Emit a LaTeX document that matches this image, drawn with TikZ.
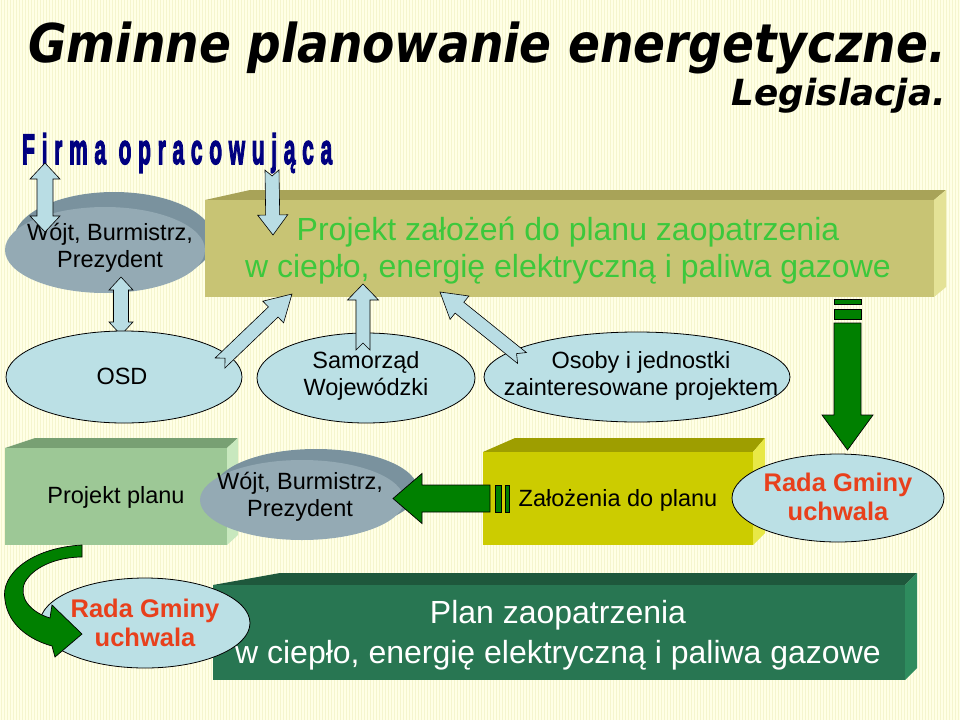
\documentclass[tikz,border=0pt]{standalone}
\usepackage{fontspec}
\setmainfont{Liberation Sans}
\newfontfamily\titlefont{DejaVu Sans}
\newfontfamily\firmafont{Liberation Sans}[LetterSpace=32, BoldFeatures={FakeBold=3.5}]
\usetikzlibrary{shapes.geometric}
\definecolor{bgc}{RGB}{255,255,230}
\definecolor{stripec}{RGB}{245,245,206}
\definecolor{lblue}{RGB}{187,224,229}
\definecolor{arrblue}{RGB}{185,221,228}
\definecolor{grayf}{RGB}{148,170,180}
\definecolor{grayb}{RGB}{122,146,158}
\definecolor{olivef}{RGB}{200,196,116}
\definecolor{olivet}{RGB}{168,163,88}
\definecolor{oliver}{RGB}{228,226,150}
\definecolor{txtgreen}{RGB}{60,200,60}
\definecolor{dgreen}{RGB}{0,128,0}
\definecolor{lgreenf}{RGB}{157,200,150}
\definecolor{lgreent}{RGB}{120,160,115}
\definecolor{lgreenr}{RGB}{200,232,190}
\definecolor{yelf}{RGB}{204,204,0}
\definecolor{yelt}{RGB}{158,158,0}
\definecolor{yelr}{RGB}{232,232,70}
\definecolor{planf}{RGB}{40,118,82}
\definecolor{plant}{RGB}{30,88,60}
\definecolor{planr}{RGB}{46,140,94}
\definecolor{radared}{RGB}{232,64,28}
\definecolor{navyc}{RGB}{0,0,128}
\newcommand{\normtext}{\fontsize{23.5}{27}\selectfont}
\newcommand{\sarrow}[9]{%
 \pgfmathsetmacro\ArDx{#4-#2}%
 \pgfmathsetmacro\ArDy{#5-#3}%
 \pgfmathsetmacro\ArLen{veclen(\ArDx,\ArDy)}%
 \pgfmathsetmacro\ArAng{atan2(-\ArDy,\ArDx)}%
 \pgfmathsetmacro\ArB{\ArLen-#8}%
 \begin{scope}[shift={(#2,#3)},rotate=\ArAng]
 \draw[#1] (0,-#6) -- (\ArB,-#6) -- (\ArB,-#7) -- (\ArLen,0) -- (\ArB,#7) -- (\ArB,#6) -- (0,#6) -- (#9,0) -- cycle;
 \end{scope}}
\newcommand{\darrow}[8]{%
 \pgfmathsetmacro\ArDx{#4-#2}%
 \pgfmathsetmacro\ArDy{#5-#3}%
 \pgfmathsetmacro\ArLen{veclen(\ArDx,\ArDy)}%
 \pgfmathsetmacro\ArAng{atan2(-\ArDy,\ArDx)}%
 \pgfmathsetmacro\ArB{\ArLen-#8}%
 \begin{scope}[shift={(#2,#3)},rotate=\ArAng]
 \draw[#1] (0,0) -- (#8,-#7) -- (#8,-#6) -- (\ArB,-#6) -- (\ArB,-#7) -- (\ArLen,0) -- (\ArB,#7) -- (\ArB,#6) -- (#8,#6) -- (#8,#7) -- cycle;
 \end{scope}}
\tikzset{
  bluearr/.style={draw=black, line width=0.6pt, fill=arrblue, line join=miter},
  greenarr/.style={draw=black, line width=0.7pt, fill=dgreen, line join=miter},
  bluell/.style={ellipse, draw=black, line width=0.8pt, fill=lblue, inner sep=0pt},
  grayell/.style={ellipse, fill=grayf, inner sep=0pt},
  grayback/.style={ellipse, fill=grayb, inner sep=0pt},
  etext/.style={align=center, font=\normtext, inner sep=0pt},
  radatext/.style={align=center, font=\fontsize{25.5}{29}\selectfont\bfseries, text=radared, inner sep=0pt},
}
\begin{document}
\begin{tikzpicture}[x=1pt,y=-1pt]
\useasboundingbox (0,0) rectangle (960,720);
\fill[bgc] (0,0) rectangle (960,720);
\foreach \i in {1,4,...,958} \draw[stripec, line width=1pt] (\i,0) -- (\i,720);

% titles
\node[anchor=base west, inner sep=0pt] (title) at (28,62) {\resizebox{918pt}{\height}{\titlefont\fontsize{53.5}{60}\selectfont\bfseries\itshape Gminne planowanie energetyczne.}};
\node[anchor=base east, inner sep=0pt] (subtitle) at (946,105) {\resizebox{214pt}{\height}{\titlefont\fontsize{36}{40}\selectfont\bfseries\itshape Legislacja.}};

% top-left ellipse
\node[grayback, minimum width=200pt, minimum height=96pt] (wojt1b) at (114,240) {};
\node[grayell, minimum width=200pt, minimum height=86pt] (wojt1) at (105,250) {};
\node[etext] (wojt1t) at (110,248) {Wójt, Burmistrz,\\Prezydent};

% big olive box
\fill[olivet] (205,200) -- (250,190) -- (946,190) -- (934,200) -- cycle;
\fill[oliver] (934,200) -- (946,190) -- (946,287) -- (934,297) -- cycle;
\fill[olivef] (205,200) rectangle (934,297);
\node[align=center, text=txtgreen, font=\fontsize{32}{37}\selectfont] (projekt) at (568,251) {Projekt założeń do planu zaopatrzenia\\w ciepło, energię elektryczną i paliwa gazowe};

% Firma text
\node[anchor=base west, inner sep=0pt, text=navyc] (firma) at (22,164) {\resizebox{310pt}{31pt}{\firmafont\bfseries Firma opracowująca}};

% arrows top
\darrow{bluearr}{45}{163}{45}{232}{8}{15}{16}
\sarrow{bluearr}{272}{170}{273}{235}{7}{15}{20}{6}
\darrow{bluearr}{121}{277}{121}{335}{7.5}{12}{13}

% middle ellipses
\node[bluell, minimum width=236pt, minimum height=92pt] (osd) at (124,377) {};
\node[etext] (osdt) at (122,376) {OSD};
\node[bluell, minimum width=218pt, minimum height=90pt] (samorzad) at (366,378) {};
\node[bluell, minimum width=306pt, minimum height=90pt] (osoby) at (637,377) {};

\sarrow{bluearr}{220}{363}{292}{294}{7}{15}{26}{7}
\sarrow{bluearr}{363}{350}{363}{284}{7}{15.5}{16}{7}
\sarrow{bluearr}{522}{358}{440}{292}{7}{15}{25}{7}

\node[etext] (samorzadt) at (366,376) {Samorząd\\Wojewódzki};
\node[etext] (osobyt) at (641,376) {Osoby i jednostki\\zainteresowane projektem};

% bottom row: Projekt planu box
\fill[lgreent] (5,448) -- (35,438) -- (238,438) -- (227,448) -- cycle;
\fill[lgreenr] (227,448) -- (238,438) -- (238,535) -- (227,545) -- cycle;
\fill[lgreenf] (5,448) rectangle (227,545);
\node[etext] (pplanu) at (116,497) {Projekt planu};

% Wójt ellipse 2
\node[grayback, minimum width=204pt, minimum height=82pt] (wojt2b) at (316,490) {};
\node[grayell, minimum width=204pt, minimum height=80pt] (wojt2) at (302,500) {};
\node[etext] (wojt2t) at (300,497) {Wójt, Burmistrz,\\Prezydent};

% Założenia box
\fill[yelt] (483,452) -- (515,438) -- (765,438) -- (753,452) -- cycle;
\fill[yelr] (753,452) -- (765,438) -- (765,533) -- (753,545) -- cycle;
\fill[yelf] (483,452) rectangle (753,545);
\node[etext] (zal) at (618,500) {Założenia do planu};

% green left arrow
\begin{scope}[shift={(509,498.5)},rotate=180]
\draw[greenarr] (0,-13.5) rectangle (4,13.5);
\draw[greenarr] (8,-13.5) rectangle (14,13.5);
\draw[greenarr] (19,-13.5) -- (87,-13.5) -- (87,-25) -- (116,0) -- (87,25) -- (87,13.5) -- (19,13.5) -- cycle;
\end{scope}

% Rada ellipse 1
\node[bluell, minimum width=212pt, minimum height=88pt] (rada1) at (838,498) {};
\node[radatext] (rada1t) at (838,497) {Rada Gminy\\uchwala};

% green down arrow
\begin{scope}[shift={(847.5,299)},rotate=-90]
\draw[greenarr] (0,-13.5) rectangle (5,13.5);
\draw[greenarr] (10,-13.5) rectangle (20,13.5);
\draw[greenarr] (24,-13.5) -- (116,-13.5) -- (116,-25.5) -- (151,0) -- (116,25.5) -- (116,13.5) -- (24,13.5) -- cycle;
\end{scope}

% Plan box
\fill[plant] (213,585) -- (280,573) -- (917,573) -- (905,585) -- cycle;
\fill[planr] (905,585) -- (917,573) -- (917,668) -- (905,680) -- cycle;
\fill[planf] (213,585) rectangle (905,680);
\node[align=center, text=white, font=\fontsize{32}{40}\selectfont] (plan) at (558,635) {Plan zaopatrzenia\\w ciepło, energię elektryczną i paliwa gazowe};

% Rada ellipse 2
\node[bluell, minimum width=210pt, minimum height=90pt] (rada2) at (145,623) {};

% curved green arrow
\draw[greenarr] (82,545) .. controls (30,548) and (0,575) .. (5,600)
  .. controls (8,625) and (30,640) .. (52,646) -- (55,657) -- (82,634) -- (52,605) -- (50,618)
  .. controls (30,612) and (18,597) .. (25,582) .. controls (35,565) and (60,557) .. (82,557) -- cycle;

\node[radatext] (rada2t) at (145,623) {Rada Gminy\\uchwala};
\end{tikzpicture}
\end{document}
